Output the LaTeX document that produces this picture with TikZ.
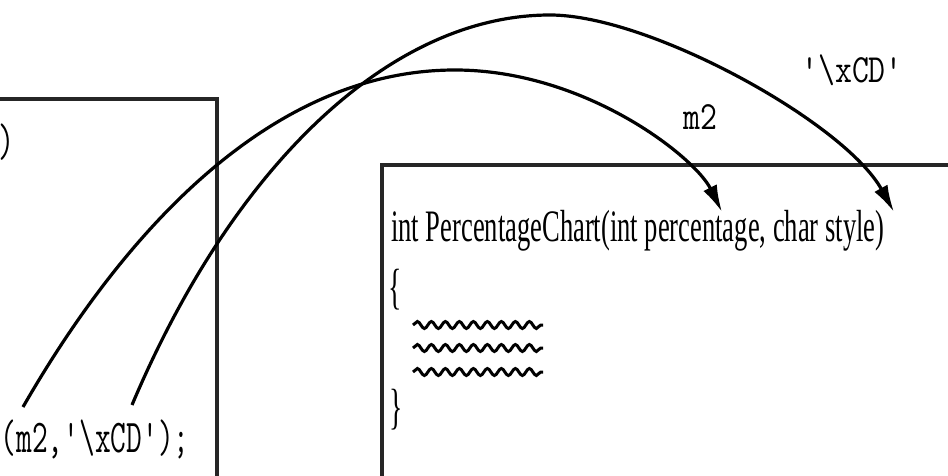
\documentclass[tikz,border=0pt]{standalone}
\usepackage{fontspec}
\setmainfont{Liberation Serif}
\usetikzlibrary{arrows.meta,decorations.pathmorphing}
\begin{document}
\begin{tikzpicture}[x=1pt,y=-1pt,
  frame/.style={line width=3.2pt, draw=black!85},
  link/.style={line width=3.2pt, -{Latex[length=27pt,width=15pt]}},
  codetxt/.style={inner sep=0pt, font=\fontsize{47}{56}\selectfont\ttfamily},
  labtxt/.style={inner sep=0pt, font=\fontsize{40}{48}\selectfont\ttfamily},
  sigtxt/.style={inner sep=0pt, font=\fontsize{45}{54}\selectfont},
  wave/.style={line width=3pt, decorate, decoration={snake, segment length=14pt, amplitude=3.5pt}}
]
\useasboundingbox (0,0) rectangle (948,476);
% boxes
\draw[frame] (-20,99) -- (217,99) -- (217,500);
\draw[frame] (382,500) -- (382,165) -- (980,165);
% left box code
\node[codetxt] (rp) at (7,142) {\scalebox{0.67}[1]{)}};
\node[codetxt, anchor=base west] (call) at (0.5,452) {\scalebox{0.65}[1]{(m2,'\textbackslash{}xCD');}};
% right box code
\node[sigtxt, anchor=base west] (sig) at (391,241) {\scalebox{0.59}[1]{int PercentageChart(int percentage, char style)}};
\node[sigtxt] (ob) at (395,290) {\scalebox{0.62}[1.1]{\{}};
\node[sigtxt] (cb) at (396,410) {\scalebox{0.62}[1.1]{\}}};
\coordinate (w1a) at (413,325); \coordinate (w1b) at (543,325);
\coordinate (w2a) at (413,348); \coordinate (w2b) at (543,348);
\coordinate (w3a) at (413,372); \coordinate (w3b) at (543,372);
\draw[wave] (w1a) -- (w1b);
\draw[wave] (w2a) -- (w2b);
\draw[wave] (w3a) -- (w3b);
% labels
\node[labtxt] (lm2) at (700,117) {\scalebox{0.82}[1]{m2}};
\node[labtxt] (lxcd) at (852,70) {\scalebox{0.82}[1]{'\textbackslash{}xCD'}};
% connectors
\coordinate (s1) at (23,407);
\coordinate (s2) at (132,405);
\coordinate (t1) at (722,212);
\coordinate (t2) at (894,212);
\draw[link] (s1) .. controls (123,233) and (270,70) .. (455,70)
              .. controls (585,70) and (695,157) .. (t1);
\draw[link] (s2) .. controls (233,166) and (390,15) .. (550,15)
              .. controls (650,15) and (845,123) .. (t2);
\end{tikzpicture}
\end{document}
